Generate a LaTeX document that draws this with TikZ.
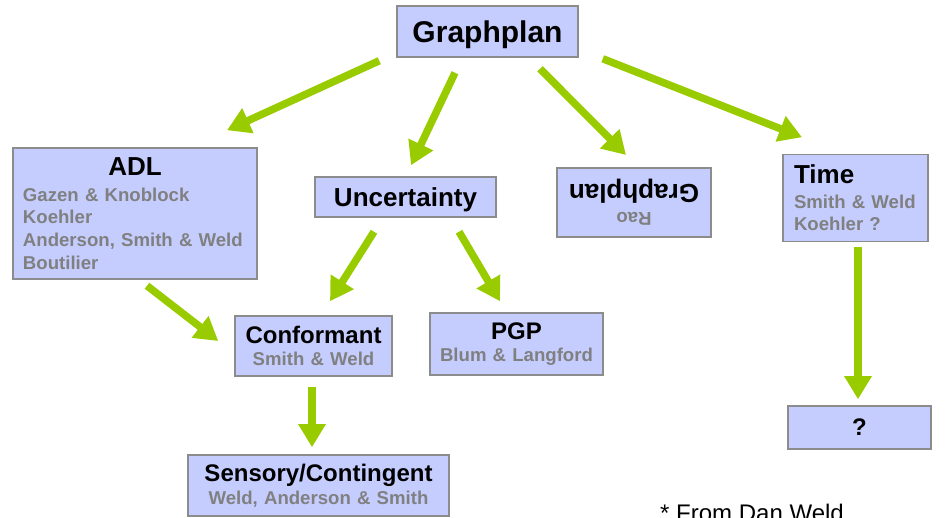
\documentclass[tikz,border=0pt]{standalone}
\usepackage{fontspec}
\setmainfont{Liberation Sans}
\usepackage{xcolor}
\usepackage{tikz}
\usetikzlibrary{arrows.meta,calc}

\definecolor{boxfill}{RGB}{197,205,255}
\definecolor{boxline}{RGB}{140,140,140}
\definecolor{notegray}{RGB}{128,128,128}
\definecolor{arrowgreen}{RGB}{153,204,0}

\newcommand{\ttl}[2][26]{{\color{black}\fontsize{#1}{#1}\selectfont #2}}

\begin{document}
\begin{tikzpicture}[x=1pt, y=-1pt,
    box/.style={draw=boxline, fill=boxfill, line width=1.5pt, inner sep=0pt,
      font=\bfseries\fontsize{18.6}{22.6}\selectfont, text=notegray},
    flow/.style={draw=arrowgreen, line width=7.5pt, -{Triangle[width=26pt,length=23pt]}}]
    \useasboundingbox (0,0) rectangle (948,518);

    % Root
    \node[box, minimum width=181pt, minimum height=51pt, text depth=0pt] (graphplan) at (487.5,31.5) {\ttl[30]{Graphplan}};

    % Second row
    \node[box, minimum width=244pt, minimum height=131pt, text width=224pt, align=left] (adl) at (135,213.5)
        {\hfill\ttl{ADL}\hfill\null\\[3pt] Gazen \& Knoblock\\ Koehler\\ Anderson, Smith \& Weld\\ Boutilier};
    \node[box, minimum width=181pt, minimum height=40pt, text depth=0pt] (uncert) at (405.5,197) {\ttl{Uncertainty}};
    \node[box, rotate=180, minimum width=154pt, minimum height=69pt, text width=150pt, align=center] (rao) at (634,202.5)
        {Rao\\[5pt] \ttl{Graphplan}};
    \node[box, minimum width=145pt, minimum height=87pt, text width=123pt, align=left] (time) at (855.5,198)
        {\ttl{Time}\\[2pt] Smith \& Weld\\ Koehler ?};

    % Third row
    \node[box, minimum width=157pt, minimum height=60pt, text width=150pt, align=center] (conf) at (313.5,346)
        {\ttl[24]{Conformant}\\ Smith \& Weld};
    \node[box, minimum width=173pt, minimum height=62pt, text width=165pt, align=center] (pgp) at (516.5,344)
        {\ttl[24]{PGP}\\ Blum \& Langford};
    \node[box, minimum width=143pt, minimum height=43pt] (unknown) at (859.5,427.5) {\ttl[24]{?}};

    % Bottom
    \node[box, minimum width=261pt, minimum height=61pt, text width=250pt, align=center] (sensory) at (318.5,485.5)
        {\ttl[24]{Sensory/Contingent}\\ Weld, Anderson \& Smith};
    \node[anchor=base west, inner sep=0pt, font=\fontsize{24}{24}\selectfont] (credit) at (660,521) {* From Dan Weld};

    % Arrows
    \draw[flow] ([shift={(-17,3)}]graphplan.south west) -- ([shift={(92,-17)}]adl.north);
    \draw[flow] ([shift={(-32.5,15)}]graphplan.south) -- ([shift={(5.5,-11)}]uncert.north);
    \draw[flow] ([shift={(52.5,11)}]graphplan.south) -- ([shift={(-8,-47.5)}]rao.center);
    \draw[flow] ([shift={(24,1)}]graphplan.south east) -- ([shift={(-53.5,-16.5)}]time.north);
    \draw[flow] ([shift={(12,6)}]adl.south) -- ([shift={(-16,-5)}]conf.west);
    \draw[flow] ([shift={(-31.5,14)}]uncert.south) -- ([shift={(16.5,-14)}]conf.north);
    \draw[flow] ([shift={(53.5,14)}]uncert.south) -- ([shift={(-16.5,-11)}]pgp.north);
    \draw[flow] ([shift={(-1.5,10)}]conf.south) -- ([shift={(-6.5,-7)}]sensory.north);
    \draw[flow] ([shift={(2.5,4.5)}]time.south) -- ([shift={(-1.5,-6)}]unknown.north);

\end{tikzpicture}
\end{document}
